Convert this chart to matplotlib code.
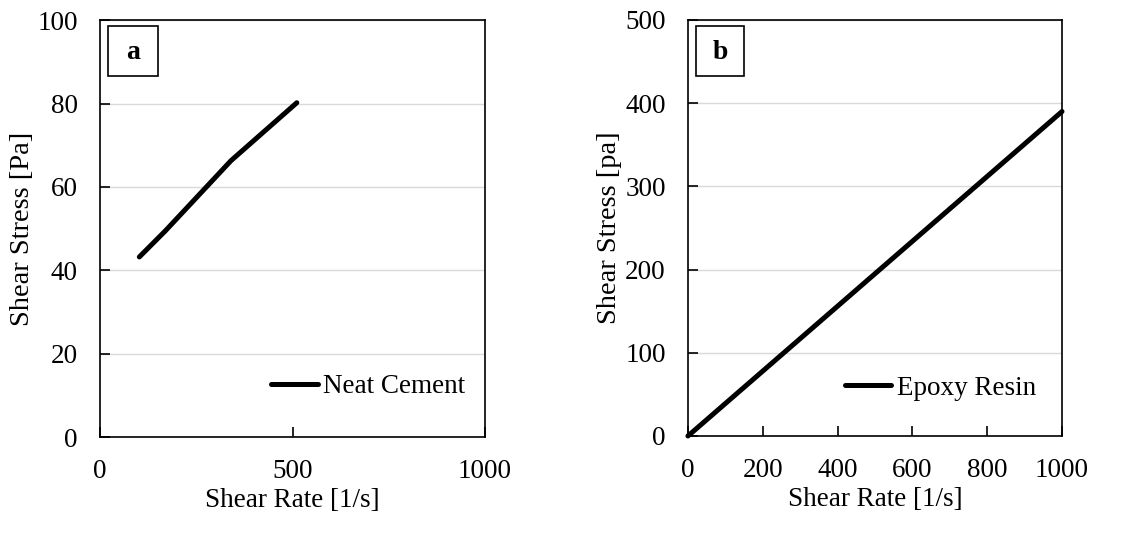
import matplotlib
matplotlib.use("Agg")
import matplotlib.pyplot as plt
from matplotlib.patches import Rectangle

plt.rcParams['font.family'] = ['Liberation Serif', 'DejaVu Serif']
plt.rcParams['font.size'] = 19.5

# Rheology data
cement_rate = [102, 170, 340, 511]
cement_stress = [43.2, 49.5, 66.3, 80.2]
cement_label = "Neat Cement"

epoxy_rate = [0, 170, 340, 511, 1000]
epoxy_stress = [0, 66.3, 132.6, 199.3, 390]
epoxy_label = "Epoxy Resin"

a_xticks = [0, 500, 1000]
a_yticks = [0, 20, 40, 60, 80, 100]
b_xticks = [0, 200, 400, 600, 800, 1000]
b_yticks = [0, 100, 200, 300, 400, 500]

fig = plt.figure(figsize=(11.46, 5.42), dpi=100)
ax_a = fig.add_axes([0.0873, 0.1937, 0.336, 0.769])
ax_b = fig.add_axes([0.6003, 0.1956, 0.3264, 0.7675])


def style(ax, xticks, yticks, ylabel, panel):
    ax.set_xlim(xticks[0], xticks[-1])
    ax.set_ylim(yticks[0], yticks[-1])
    ax.set_xticks(xticks)
    ax.set_yticks(yticks)
    ax.tick_params(direction='in', length=7, width=1.2, color='black')
    ax.tick_params(axis='x', pad=16)
    ax.tick_params(axis='y', pad=16)
    ax.grid(axis='y', color='#d9d9d9', linewidth=1.0)
    ax.set_axisbelow(True)
    for s in ax.spines.values():
        s.set_linewidth(1.2)
        s.set_color('black')
    ax.set_xlabel("Shear Rate [1/s]", labelpad=3)
    ax.set_ylabel(ylabel, labelpad=2, fontsize=20.5)
    ax.add_patch(Rectangle((0.021, 0.865), 0.13, 0.12, transform=ax.transAxes,
                           fill=False, edgecolor='black', linewidth=1.2,
                           clip_on=False, zorder=5))
    ax.text(0.086, 0.922, panel, transform=ax.transAxes, ha='center',
            va='center', fontweight='bold', fontsize=20, zorder=6)


ax_a.plot(cement_rate, cement_stress, color='black', linewidth=3.6,
          solid_capstyle='round', solid_joinstyle='round', label=cement_label)
style(ax_a, a_xticks, a_yticks, "Shear Stress [Pa]", "a")
ax_a.legend(loc='center right', bbox_to_anchor=(0.948, 0.12), frameon=False,
            handlelength=1.7, handletextpad=0.2, borderpad=0, borderaxespad=0)

ax_b.plot(epoxy_rate, epoxy_stress, color='black', linewidth=3.6,
          solid_capstyle='round', solid_joinstyle='round', label=epoxy_label,
          clip_on=False)
style(ax_b, b_xticks, b_yticks, "Shear Stress [pa]", "b")
ax_b.legend(loc='center right', bbox_to_anchor=(0.93, 0.115), frameon=False,
            handlelength=1.7, handletextpad=0.2, borderpad=0, borderaxespad=0)

fig.savefig("out.png", dpi=100)
